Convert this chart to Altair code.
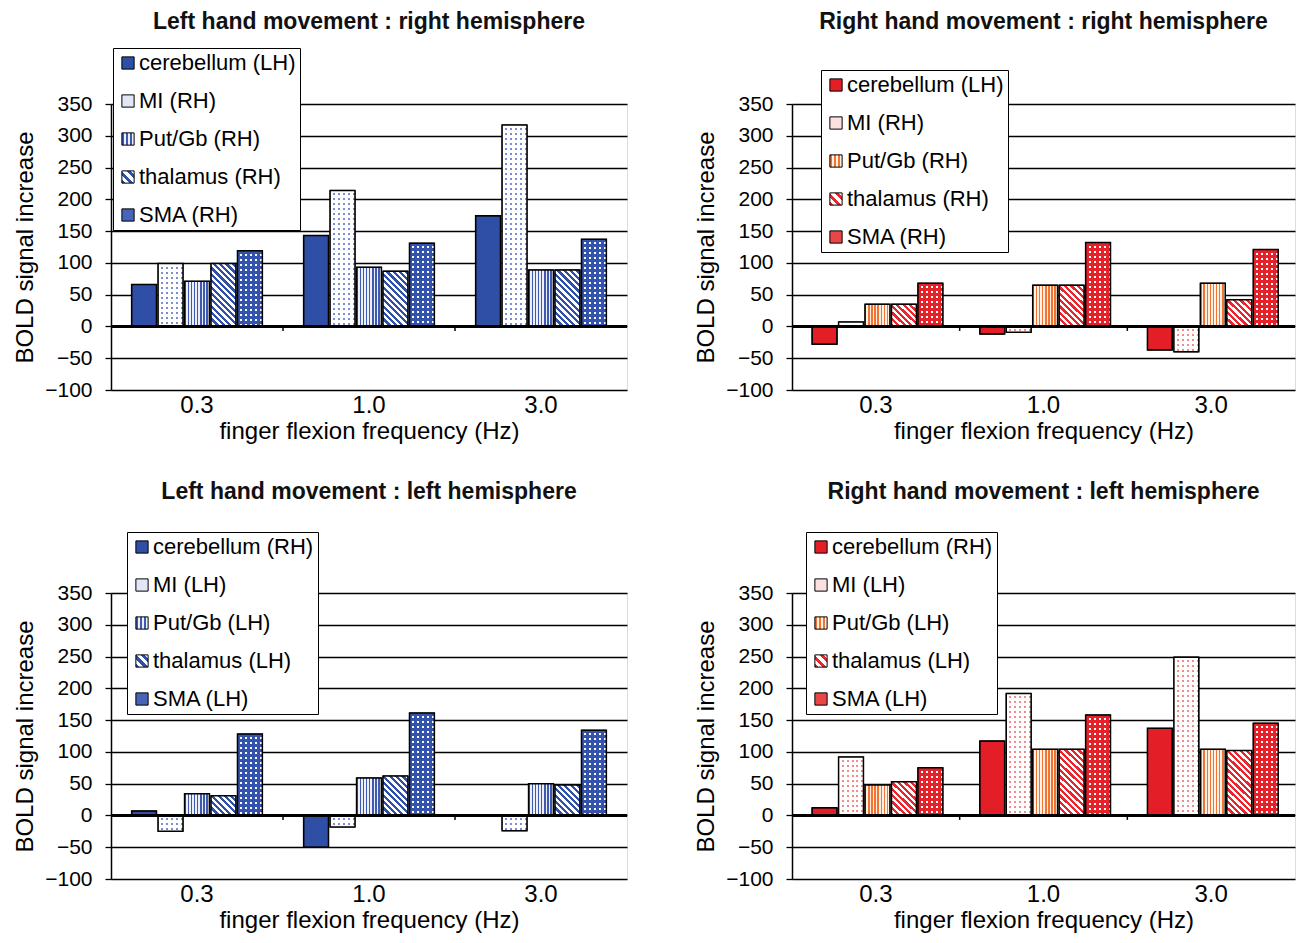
import altair as alt
import pandas as pd

# ---------------- data ----------------
freqs = ["0.3", "1.0", "3.0"]
regions = ["cerebellum", "MI", "Put/Gb", "thalamus", "SMA"]

a_title = "Left hand movement : right hemisphere"
a_labels = ["cerebellum (LH)", "MI (RH)", "Put/Gb (RH)", "thalamus (RH)", "SMA (RH)"]
a_cerebellum = [66, 143, 174]
a_mi = [99, 214, 317]
a_put = [71, 93, 89]
a_thalamus = [99, 87, 89]
a_sma = [119, 131, 137]

b_title = "Right hand movement : right hemisphere"
b_labels = ["cerebellum (LH)", "MI (RH)", "Put/Gb (RH)", "thalamus (RH)", "SMA (RH)"]
b_cerebellum = [-28, -12, -37]
b_mi = [7, -9, -40]
b_put = [35, 65, 68]
b_thalamus = [35, 65, 42]
b_sma = [68, 132, 121]

c_title = "Left hand movement : left hemisphere"
c_labels = ["cerebellum (RH)", "MI (LH)", "Put/Gb (LH)", "thalamus (LH)", "SMA (LH)"]
c_cerebellum = [7, -50, 0]
c_mi = [-25, -18, -24]
c_put = [34, 59, 50]
c_thalamus = [31, 62, 48]
c_sma = [128, 161, 134]

d_title = "Right hand movement : left hemisphere"
d_labels = ["cerebellum (RH)", "MI (LH)", "Put/Gb (LH)", "thalamus (LH)", "SMA (LH)"]
d_cerebellum = [12, 117, 137]
d_mi = [92, 192, 249]
d_put = [48, 104, 104]
d_thalamus = [53, 104, 102]
d_sma = [75, 158, 145]

y_ticks = [-100, -50, 0, 50, 100, 150, 200, 250, 300, 350]

# ---------------- styling ----------------
FONT = "Liberation Sans"
LEFT_W, RIGHT_W, PLOT_H = 516, 503, 286
Y_MIN, Y_MAX = -100, 350
PX = PLOT_H / (Y_MAX - Y_MIN)
CLEAR = "rgba(255,255,255,0)"
PAD_IN, PAD_OUT, OFF_PAD = 0.24, 0.12, 0.06

BLUE = dict(main="#2f4ea5", mi_dot="#7d8dd5", put_on="#3d5ab0", put_off="#eceff8",
            thal_on="#3150a8", thal_off="#ffffff", sma_bg="#3453ad",
            leg_mi="#e2e6f5", leg_sma="#4864b8")
RED = dict(main="#e31e26", mi_dot="#f28b8b", put_on="#f17432", put_off="#fff0e4",
           thal_on="#e8262d", thal_off="#ffffff", sma_bg="#e52229",
           leg_mi="#fbe0e0", leg_sma="#ea4646")


def stops(c_on, c_off, n, frac):
    out = []
    for k in range(n):
        a, b, e = k / n, (k + frac) / n, (k + 1) / n
        out += [(a, c_on), (b, c_on), (b, c_off), (e, c_off)]
    return out


def stops_js(st):
    return "[" + ",".join("{offset:%.5f,color:'%s'}" % (o, c) for o, c in st) + "]"


def lin_grad(st, x1, y1, x2, y2):
    return alt.LinearGradient(gradient="linear",
                              stops=[alt.GradientStop(offset=o, color=c) for o, c in st],
                              x1=x1, y1=y1, x2=x2, y2=y2)


x_scale = alt.Scale(domain=freqs, paddingInner=PAD_IN, paddingOuter=PAD_OUT)
y_scale = alt.Scale(domain=[Y_MIN, Y_MAX], nice=False, zero=False)
xo_scale = alt.Scale(domain=regions, paddingInner=OFF_PAD, paddingOuter=0)

x_axis = alt.Axis(title="finger flexion frequency (Hz)", labelAngle=0, ticks=False, domain=False,
                  grid=False, labelFontSize=24, labelColor="black", labelPadding=3, labelFont=FONT,
                  titleFont=FONT, titleFontSize=24, titleFontWeight="normal", titleColor="black",
                  titlePadding=2)
y_axis = alt.Axis(title="BOLD signal increase", values=y_ticks, grid=True, gridColor="black",
                  gridWidth=1.3, gridOpacity=1, domain=True, domainColor="black", domainWidth=1.5,
                  ticks=True, tickColor="black", tickSize=6, tickWidth=1.3, labelFontSize=21,
                  labelColor="black", labelPadding=13, labelFont=FONT, labelFlush=False,
                  labelOverlap=False, titleFont=FONT, titleFontSize=24, titleFontWeight="normal",
                  titleColor="black", titlePadding=7)


def make_panel(title, labels, cols, pal, legend_xy, title_offset, plot_w):
    rows = []
    for reg, lab, vals in zip(regions, labels, cols):
        for f, v in zip(freqs, vals):
            rows.append({"freq": f, "region": reg, "label": lab, "value": v})
    df = pd.DataFrame(rows)

    band = plot_w / 3 * (1 - PAD_IN)
    bar_w = band / (5 - OFF_PAD) * (1 - OFF_PAD)
    sep_shift = PAD_IN * (plot_w / 3) / 2

    base = alt.Chart(df).encode(
        x=alt.X("freq:N", scale=x_scale, axis=x_axis),
        xOffset=alt.XOffset("region:N", scale=xo_scale),
        y=alt.Y("value:Q", scale=y_scale, axis=y_axis),
    )

    put_leg = "{gradient:'linear',x1:0,y1:0,x2:1,y2:0,stops:%s}" % stops_js(
        stops(pal["put_on"], pal["put_off"], 3, 0.5))
    thal_leg = "{gradient:'linear',x1:0,y1:1,x2:1,y2:0,stops:%s}" % stops_js(
        stops(pal["thal_on"], pal["thal_off"], 3, 0.5))
    legend_range = [pal["main"], pal["leg_mi"], {"expr": put_leg}, {"expr": thal_leg}, pal["leg_sma"]]

    layers = []
    # base layer (carries the legend)
    layers.append(base.mark_bar(stroke="black", strokeWidth=1).encode(
        color=alt.Color("label:N", scale=alt.Scale(domain=labels, range=legend_range),
                        legend=alt.Legend(title=None, orient="none", legendX=legend_xy[0],
                                          legendY=legend_xy[1], direction="vertical",
                                          symbolType="square", symbolSize=150,
                                          symbolStrokeColor="black", symbolStrokeWidth=1,
                                          labelFont=FONT, labelFontSize=22, labelColor="black",
                                          labelLimit=400, labelOffset=0, rowPadding=16,
                                          padding=4, strokeColor="black", fillColor="white"))))

    def h_calc(ch):
        return ch.transform_calculate(h="max(abs(datum.value)*%f,1)" % PX)

    # dotted patterns: base colour + vertical mask + horizontal mask
    N_H, P_H, DOT = 50, 5.0, 0.4
    for reg, bg, mask in (("MI", pal["mi_dot"], "#ffffff"), ("SMA", "#ffffff", pal["sma_bg"])):
        sub = base.transform_filter(alt.datum.region == reg)
        layers.append(sub.mark_bar(fill=bg))
        layers.append(sub.mark_bar(fill=lin_grad(stops(mask, CLEAR, 5, 1 - DOT), 0, 0, 1, 0)))
        hexpr = "{gradient:'linear',x1:0,y1:0,x2:0,y2:%f/datum.h,stops:%s}" % (
            N_H * P_H, stops_js(stops(mask, CLEAR, N_H, 1 - DOT)))
        layers.append(h_calc(sub).transform_calculate(g=hexpr).mark_bar().encode(
            fill=alt.Fill("g:N", scale=None, legend=None)))

    # vertical stripes
    layers.append(base.transform_filter(alt.datum.region == "Put/Gb").mark_bar(
        fill=lin_grad(stops(pal["put_on"], pal["put_off"], 8, 0.45), 0, 0, 1, 0)))

    # diagonal stripes (45 degrees, per bar)
    N_D, P_D = 60, 4.5
    dexpr = "{gradient:'linear',x1:0,y1:1,x2:datum.c,y2:1-datum.c*datum.r,stops:%s}" % stops_js(
        stops(pal["thal_on"], pal["thal_off"], N_D, 0.5))
    layers.append(
        h_calc(base.transform_filter(alt.datum.region == "thalamus"))
        .transform_calculate(r="datum.h/%f" % bar_w)
        .transform_calculate(n="(%f+datum.h)/%f" % (bar_w, 1.41421 * P_D))
        .transform_calculate(c="(1+datum.r)*%d/(datum.n*(1+datum.r*datum.r))" % N_D)
        .transform_calculate(g=dexpr)
        .mark_bar().encode(fill=alt.Fill("g:N", scale=None, legend=None)))

    # outlines
    layers.append(base.mark_bar(fillOpacity=0, stroke="black", strokeWidth=1.5))

    # zero line and category separators
    layers.append(alt.Chart(df).mark_rule(color="black", strokeWidth=2).encode(
        y=alt.YDatum(0, type="quantitative", scale=y_scale, axis=y_axis)))
    sep = pd.DataFrame({"freq": freqs[:-1]})
    layers.append(alt.Chart(sep).mark_rule(color="black", strokeWidth=1.5, xOffset=sep_shift).encode(
        x=alt.X("freq:N", scale=x_scale, axis=x_axis, bandPosition=1),
        y=alt.YDatum(0, type="quantitative", scale=y_scale, axis=y_axis),
        y2=alt.Y2Datum(-7)))

    return alt.layer(*layers).properties(
        width=plot_w, height=PLOT_H,
        title=alt.TitleParams(text=title, font=FONT, fontSize=23, fontWeight="bold",
                              color="#111111", anchor="middle", frame="group",
                              offset=title_offset, baseline="alphabetic"))


pa = make_panel(a_title, a_labels, [a_cerebellum, a_mi, a_put, a_thalamus, a_sma], BLUE,
                (2, -56), -4, LEFT_W)
pb = make_panel(b_title, b_labels, [b_cerebellum, b_mi, b_put, b_thalamus, b_sma], RED,
                (29, -34), 18, RIGHT_W)
pc = make_panel(c_title, c_labels, [c_cerebellum, c_mi, c_put, c_thalamus, c_sma], BLUE,
                (16, -61), 10, LEFT_W)
pd_ = make_panel(d_title, d_labels, [d_cerebellum, d_mi, d_put, d_thalamus, d_sma], RED,
                 (14, -61), 10, RIGHT_W)

chart = alt.concat(pa, pb, pc, pd_, columns=2, spacing={"row": 36, "column": 65}).resolve_scale(
    color="independent").resolve_legend(color="independent").properties(
    padding={"left": 5, "top": 2, "right": 0, "bottom": 0}).configure_view(
    stroke="black", strokeWidth=1.5).configure(font=FONT, background="white")

chart.save("out.html", embed_options={"renderer": "svg", "actions": False})
